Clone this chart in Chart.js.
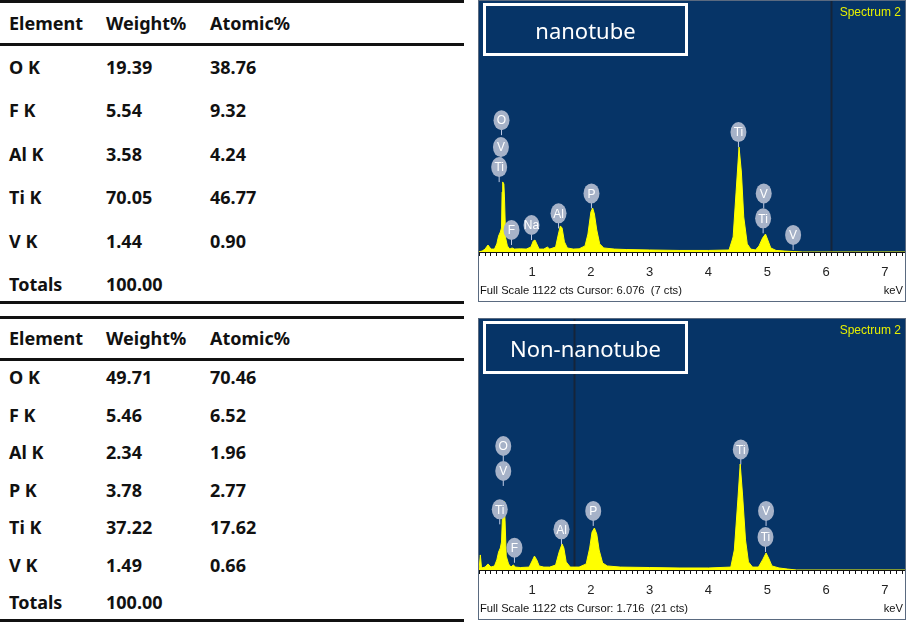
<!DOCTYPE html>
<html>
<head>
<meta charset="utf-8">
<script src="https://cdn.jsdelivr.net/npm/chart.js@4.4.0/dist/chart.umd.min.js"></script>
<style>
body{margin:0;width:906px;height:626px;background:#fff;position:relative;overflow:hidden;font-family:"Noto Sans",sans-serif}
.rule{position:absolute;left:0;width:464px;height:3px;background:#111}
.cell{position:absolute;font-weight:bold;font-size:18px;color:#111;line-height:1;transform:translateY(-50%);white-space:nowrap}
.panel{position:absolute;left:478px;width:428px;height:302px;background:#fff}
.frame{position:absolute;left:0;top:0;right:0;bottom:0;border:1px solid #5a6a80;pointer-events:none}
.tag{position:absolute;left:5px;top:3px;width:205px;height:53px;border:3px solid #fff;color:#fff;font-size:22px;display:flex;align-items:center;justify-content:center;box-sizing:border-box}
.spec{position:absolute;right:5px;top:5px;color:#e6f000;font:12px "Liberation Sans Narrow",Arial,sans-serif}
.foot{position:absolute;left:2px;top:284px;font:11.2px "Liberation Sans Narrow",Arial,sans-serif;color:#111}
.kev{position:absolute;right:3px;top:284px;font:11.2px "Liberation Sans Narrow",Arial,sans-serif;color:#111}
</style>
</head>
<body>
<div id="tables"></div>

<div class="panel" style="top:0">
  <canvas id="spec1" width="428" height="302"></canvas>
  <div class="tag">nanotube</div>
  <div class="spec">Spectrum 2</div>
  <div class="foot">Full Scale 1122 cts Cursor: 6.076&nbsp; (7 cts)</div>
  <div class="kev">keV</div>
  <div class="frame"></div>
</div>
<div class="panel" style="top:318px">
  <canvas id="spec2" width="428" height="302"></canvas>
  <div class="tag">Non-nanotube</div>
  <div class="spec">Spectrum 2</div>
  <div class="foot">Full Scale 1122 cts Cursor: 1.716&nbsp; (21 cts)</div>
  <div class="kev">keV</div>
  <div class="frame"></div>
</div>

<script>
// ---- table data ----
const elements1 = ['O K', 'F K', 'Al K', 'Ti K', 'V K'];
const weight1 = [19.39, 5.54, 3.58, 70.05, 1.44];
const atomic1 = [38.76, 9.32, 4.24, 46.77, 0.90];

const elements2 = ['O K', 'F K', 'Al K', 'P K', 'Ti K', 'V K'];
const weight2 = [49.71, 5.46, 2.34, 3.78, 37.22, 1.49];
const atomic2 = [70.46, 6.52, 1.96, 2.77, 17.62, 0.66];

const totalWeight = 100.00;

// ---- spectrum data (keV, counts) ----
const fullScale = 1122;
const keVTicks = [1, 2, 3, 4, 5, 6, 7];

const keV1 = [0.08, 0.15, 0.20, 0.25, 0.30, 0.36, 0.40, 0.43, 0.46, 0.48, 0.49, 0.50, 0.52, 0.53, 0.55, 0.58, 0.62, 0.66, 0.70, 0.80, 0.90, 0.98, 1.02, 1.05, 1.08, 1.12, 1.20, 1.26, 1.30, 1.40, 1.44, 1.48, 1.51, 1.55, 1.60, 1.70, 1.80, 1.90, 1.95, 2.00, 2.03, 2.06, 2.10, 2.15, 2.22, 2.40, 2.60, 3.00, 3.50, 4.00, 4.35, 4.42, 4.47, 4.52, 4.56, 4.60, 4.66, 4.72, 4.80, 4.86, 4.92, 4.97, 5.01, 5.06, 5.15, 5.30, 5.45, 5.60, 7.40];
const cts1 = [0, 4, 13, 31, 13, 13, 36, 71, 89, 107, 267, 312, 303, 245, 62, 27, 13, 18, 13, 14, 13, 22, 49, 53, 36, 13, 13, 22, 13, 22, 71, 116, 107, 45, 18, 13, 14, 27, 80, 178, 196, 169, 98, 36, 18, 13, 11, 9, 7, 7, 9, 67, 267, 467, 356, 156, 36, 13, 9, 27, 62, 80, 53, 18, 7, 4, 2, 0, 0];

const keV2 = [0.08, 0.10, 0.12, 0.14, 0.20, 0.25, 0.30, 0.36, 0.40, 0.43, 0.46, 0.48, 0.50, 0.52, 0.54, 0.56, 0.60, 0.64, 0.68, 0.72, 0.80, 0.95, 1.00, 1.04, 1.08, 1.12, 1.20, 1.30, 1.40, 1.46, 1.51, 1.54, 1.58, 1.65, 1.80, 1.92, 1.98, 2.02, 2.06, 2.10, 2.14, 2.20, 2.28, 2.50, 3.00, 3.50, 4.00, 4.38, 4.44, 4.50, 4.54, 4.58, 4.63, 4.68, 4.75, 4.85, 4.92, 4.98, 5.03, 5.08, 5.20, 5.35, 5.50, 7.40];
const cts2 = [4, 9, 67, 9, 13, 27, 13, 18, 45, 80, 98, 125, 267, 307, 222, 62, 27, 13, 22, 13, 11, 13, 40, 62, 45, 18, 13, 13, 22, 80, 116, 98, 36, 13, 13, 27, 98, 169, 187, 160, 89, 31, 18, 13, 11, 9, 9, 13, 89, 312, 472, 334, 134, 36, 13, 13, 45, 76, 49, 18, 9, 4, 0, 0];

// element markers: symbol, keV, counts (centre of the marker)
const markText1 = ['O', 'V', 'Ti', 'F', 'Na', 'Al', 'P', 'Ti', 'V', 'Ti', 'V'];
const markKeV1 = [0.48, 0.47, 0.44, 0.65, 0.99, 1.45, 2.01, 4.51, 4.94, 4.93, 5.44];
const markCts1 = [587, 467, 378, 98, 120, 172, 261, 534, 261, 150, 76];

const markText2 = ['O', 'V', 'Ti', 'F', 'Al', 'P', 'Ti', 'V', 'Ti'];
const markKeV2 = [0.51, 0.51, 0.45, 0.70, 1.50, 2.04, 4.55, 4.98, 4.97];
const markCts2 = [552, 441, 270, 99, 181, 263, 537, 263, 147];

const cursor1 = 6.076;
const cursor2 = 1.716;

// ---- tables ----
const host = document.getElementById('tables');
function addCell(text, x, y) {
    const d = document.createElement('div');
    d.className = 'cell';
    d.style.left = x + 'px';
    d.style.top = y + 'px';
    d.textContent = text;
    host.appendChild(d);
}
function addRule(y) {
    const d = document.createElement('div');
    d.className = 'rule';
    d.style.top = y + 'px';
    host.appendChild(d);
}
function buildTable(names, w, a, top, headerY, firstRow, step, bottom) {
    addRule(top);
    addCell('Element', 9, headerY);
    addCell('Weight%', 106, headerY);
    addCell('Atomic%', 210, headerY);
    addRule(headerY + 20);
    names.forEach((n, i) => {
        const y = firstRow + i * step;
        addCell(n, 9, y);
        addCell(w[i].toFixed(2), 106, y);
        addCell(a[i].toFixed(2), 210, y);
    });
    addCell('Totals', 9, firstRow + names.length * step);
    addCell(totalWeight.toFixed(2), 106, firstRow + names.length * step);
    addRule(bottom);
}
buildTable(elements1, weight1, atomic1, 0, 23, 67, 43.4, 301);
buildTable(elements2, weight2, atomic2, 316, 338, 377, 37.5, 619);

// ---- spectra ----
const minorTicks = [];
for (let i = 1; i <= 73; i++) minorTicks.push({ value: i / 10 });

const spectrumDecor = {
    id: 'spectrumDecor',
    beforeDatasetsDraw(chart, args, opts) {
        const { ctx, chartArea: a, scales: { x } } = chart;
        ctx.save();
        ctx.fillStyle = '#063467';
        ctx.fillRect(a.left, a.top, a.right - a.left, a.bottom - a.top);
        const cx = Math.round(x.getPixelForValue(opts.cursor)) + 0.5;
        ctx.strokeStyle = '#15243a';
        ctx.lineWidth = 2;
        ctx.beginPath();
        ctx.moveTo(cx, a.top);
        ctx.lineTo(cx, a.bottom);
        ctx.stroke();
        ctx.restore();
    },
    afterDatasetsDraw(chart, args, opts) {
        const { ctx, scales: { x, y } } = chart;
        ctx.save();
        opts.text.forEach((t, i) => {
            const px = x.getPixelForValue(opts.keV[i]);
            const py = y.getPixelForValue(opts.cts[i]);
            ctx.strokeStyle = '#c0cbe6';
            ctx.lineWidth = 1;
            ctx.beginPath();
            ctx.moveTo(px, py + 9);
            ctx.lineTo(px, py + 15);
            ctx.stroke();
            ctx.fillStyle = '#a6b2c8';
            ctx.beginPath();
            ctx.ellipse(px, py, 8, 10, 0, 0, Math.PI * 2);
            ctx.fill();
            ctx.fillStyle = '#ffffff';
            ctx.font = '12px "Liberation Sans Narrow", Arial, sans-serif';
            ctx.textAlign = 'center';
            ctx.textBaseline = 'middle';
            ctx.fillText(t, px, py + 1);
        });
        ctx.restore();
    }
};

function drawSpectrum(id, keV, cts, text, mKeV, mCts, cursor) {
    new Chart(document.getElementById(id), {
        type: 'line',
        data: {
            datasets: [{
                data: keV.map((k, i) => ({ x: k, y: cts[i] })),
                borderColor: '#ffff00',
                backgroundColor: '#ffff00',
                borderWidth: 1,
                fill: 'origin',
                pointRadius: 0,
                tension: 0
            }]
        },
        options: {
            responsive: false,
            animation: false,
            devicePixelRatio: 1,
            layout: { padding: 0 },
            plugins: {
                legend: { display: false },
                tooltip: { enabled: false },
                spectrumDecor: { text: text, keV: mKeV, cts: mCts, cursor: cursor }
            },
            scales: {
                x: {
                    type: 'linear',
                    min: 0.08,
                    max: 7.36,
                    afterBuildTicks: (axis) => { axis.ticks = minorTicks.slice(); },
                    afterFit: (axis) => {
                        axis.height = 50;
                        axis.paddingLeft = 0;
                        axis.paddingRight = 0;
                    },
                    grid: { drawOnChartArea: false, tickLength: 4, color: '#111', lineWidth: 1 },
                    border: { display: true, color: '#111', width: 1 },
                    ticks: {
                        autoSkip: false,
                        maxRotation: 0,
                        padding: 9,
                        color: '#222',
                        font: { size: 13, family: '"Liberation Sans Narrow", Arial, sans-serif' },
                        callback: (v) => keVTicks.includes(Math.round(v * 10) / 10) ? String(Math.round(v)) : ''
                    }
                },
                y: { display: false, min: 0, max: fullScale }
            }
        },
        plugins: [spectrumDecor]
    });
}

drawSpectrum('spec1', keV1, cts1, markText1, markKeV1, markCts1, cursor1);
drawSpectrum('spec2', keV2, cts2, markText2, markKeV2, markCts2, cursor2);
</script>
</body>
</html>
